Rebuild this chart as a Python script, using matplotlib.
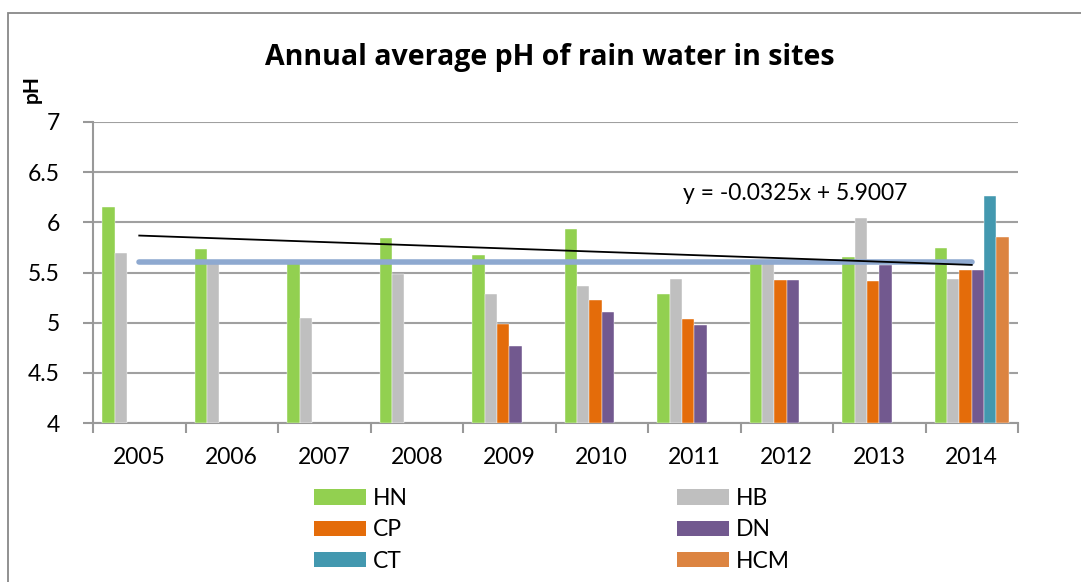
import matplotlib
matplotlib.use("Agg")
import matplotlib.pyplot as plt
import numpy as np
from matplotlib.patches import Rectangle, Patch

plt.rcParams['font.family'] = ['Lato', 'DejaVu Sans']

years = ["2005", "2006", "2007", "2008", "2009", "2010", "2011", "2012", "2013", "2014"]
sites = ["HN", "HB", "CP", "DN", "CT", "HCM"]
HN = [6.15, 5.73, 5.59, 5.84, 5.67, 5.93, 5.29, 5.62, 5.65, 5.74]
HB = [5.69, 5.60, 5.05, 5.49, 5.29, 5.37, 5.44, 5.61, 6.04, 5.44]
CP = [None, None, None, None, 4.99, 5.23, 5.04, 5.43, 5.42, 5.52]
DN = [None, None, None, None, 4.77, 5.11, 4.98, 5.43, 5.57, 5.52]
CT = [None, None, None, None, None, None, None, None, None, 6.26]
HCM = [None, None, None, None, None, None, None, None, None, 5.85]
threshold = [5.6] * 10
trend_slope = -0.0325
trend_intercept = 5.9007
trend_label = "y = -0.0325x + 5.9007"
colors = ["#92D050", "#BFBFBF", "#E46C0A", "#72598F", "#4398AF", "#DC8441"]

series = [HN, HB, CP, DN, CT, HCM]

fig = plt.figure(figsize=(10.81, 5.82), dpi=100)
W, H = 1081, 582
ax = fig.add_axes([93 / W, 1 - 423 / H, (1018 - 93) / W, (423 - 122) / H])

x = np.arange(1, len(years) + 1)
bw = 0.8 / 6
for i, (vals, c, name) in enumerate(zip(series, colors, sites)):
    xs = [xi - 0.4 + bw * (i + 0.5) for xi, v in zip(x, vals) if v is not None]
    vs = [v for v in vals if v is not None]
    ax.bar(xs, [v - 4 for v in vs], bottom=4, width=bw, color=c, zorder=3,
           edgecolor='white', linewidth=0.3)

ax.plot(x, threshold, color="#8EA9D0", lw=4, solid_capstyle='round', zorder=4)
ax.plot(x, trend_slope * x + trend_intercept, color='black', lw=1.3, zorder=5)

ax.set_xlim(0.5, 10.5)
ax.set_ylim(4, 7)
ax.set_yticks([4, 4.5, 5, 5.5, 6, 6.5, 7])
ax.set_yticklabels(["4", "4.5", "5", "5.5", "6", "6.5", "7"])
ax.set_xticks(np.arange(0.5, 11, 1))
ax.set_xticklabels([])
ax.set_xticks(x, minor=True)
ax.set_xticklabels(years, minor=True)
ax.tick_params(axis='x', which='minor', length=0, pad=17, labelsize=16.5)
ax.tick_params(axis='x', which='major', length=7, width=1.5, color='#999999', direction='out')
ax.tick_params(axis='y', length=7, width=1.5, color='#999999', direction='out', pad=17, labelsize=16.5)
ax.yaxis.grid(True, color='#A0A0A0', lw=1.5, zorder=0)
ax.set_axisbelow(True)
for s in ['top', 'right']:
    ax.spines[s].set_visible(False)
for s in ['left', 'bottom']:
    ax.spines[s].set_color('#999999')
    ax.spines[s].set_linewidth(1.5)

ax.text((683 - 93) / 925, 0.762, trend_label, transform=ax.transAxes, fontsize=16.5, ha='left', va='center')

fig.text(550 / W, 1 - 57 / H, "Annual average pH of rain water in sites", ha='center', va='center',
         fontsize=20.5, fontweight='bold', family=['Open Sans', 'DejaVu Sans'])
fig.text(32 / W, 1 - 89 / H, "pH", rotation=90, ha='center', va='center', fontsize=15, fontweight='bold')

fig.add_artist(Rectangle((8 / W, -0.1), 1.2, 1 - 13 / H + 0.1, transform=fig.transFigure,
                         fill=False, edgecolor='#888888', lw=1.3))

handles = [Patch(facecolor=c) for c in colors]
order = [0, 2, 4, 1, 3, 5]
fig.legend([handles[i] for i in order], [sites[i] for i in order], ncol=2,
           loc='upper left', bbox_to_anchor=(314 / W, 1 - 488 / H), frameon=False,
           fontsize=16.5, handlelength=2.27, handleheight=0.65, handletextpad=0.3,
           columnspacing=11.73, labelspacing=0.45, borderaxespad=0, borderpad=0)

fig.savefig("out.png", dpi=100)
